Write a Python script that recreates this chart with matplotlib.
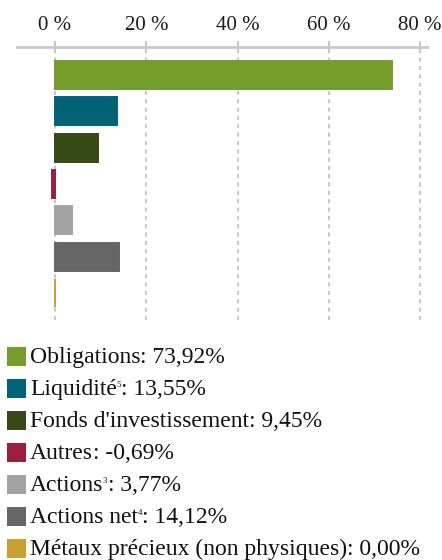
import matplotlib
matplotlib.use("Agg")
import matplotlib.pyplot as plt
from matplotlib.patches import Rectangle

plt.rcParams['font.family'] = ['Liberation Serif', 'DejaVu Serif']

categories = ["Obligations", "Liquidité", "Fonds d'investissement", "Autres",
              "Actions", "Actions net", "Métaux précieux (non physiques)"]
superscripts = ["", "5", "", "", "3", "4", ""]
values = [73.92, 13.55, 9.45, -0.69, 3.77, 14.12, 0.00]
value_labels = ["73,92%", "13,55%", "9,45%", "-0,69%", "3,77%", "14,12%", "0,00%"]
colors = ["#739c2b", "#006375", "#354a15", "#9b2040", "#a3a3a3", "#666666", "#c9a030"]
xticks = [0, 20, 40, 60, 80]
xtick_labels = ["0 %", "20 %", "40 %", "60 %", "80 %"]

W, H = 442, 560
fig = plt.figure(figsize=(W / 100, H / 100), dpi=100)
ax = fig.add_axes([17 / W, 1 - 320 / H, 410 / W, 273 / H])

ypos = list(range(len(values)))
ax.barh(ypos, values, height=0.77, color=colors, edgecolor=colors, linewidth=1.4, zorder=3)
ax.set_ylim(len(values) - 1 + 0.74, -0.77)
ax.set_xlim(-8.33, 81.53)

for s in ["bottom", "left", "right"]:
    ax.spines[s].set_visible(False)
ax.spines["top"].set_color("#c8c8c8")
ax.spines["top"].set_linewidth(2)
ax.xaxis.tick_top()
ax.set_xticks(xticks)
ax.set_xticklabels(xtick_labels, fontsize=15, color="#1a1a1a")
ax.tick_params(axis="x", direction="inout", length=8, width=1.5, color="#c8c8c8", pad=5)
ax.set_yticks([])
ax.grid(axis="x", linestyle=(0, (2, 2)), color="#c8c8c8", linewidth=1.5, zorder=0)

# legend
fs = 17
renderer = fig.canvas.get_renderer()
y0 = 356
pitch = 32
for i, (cat, sup, lab, col) in enumerate(zip(categories, superscripts, value_labels, colors)):
    yc = y0 + i * pitch
    fig.add_artist(Rectangle((7 / W, 1 - (yc + 9.5) / H), 19 / W, 19 / H,
                             transform=fig.transFigure, facecolor=col, edgecolor="none"))
    base = 1 - (yc + 7) / H
    t1 = fig.text(30 / W, base, cat, fontsize=fs, va="baseline", ha="left", color="#111111")
    x = 30 + t1.get_window_extent(renderer).width
    if sup:
        t2 = fig.text((x - 0.5) / W, base + 8 / H, sup, fontsize=6.5, va="baseline", ha="left",
                      color="#111111")
        x += t2.get_window_extent(renderer).width
    fig.text(x / W, base, f": {lab}", fontsize=fs, va="baseline", ha="left", color="#111111")

fig.savefig("out.png", dpi=100)
